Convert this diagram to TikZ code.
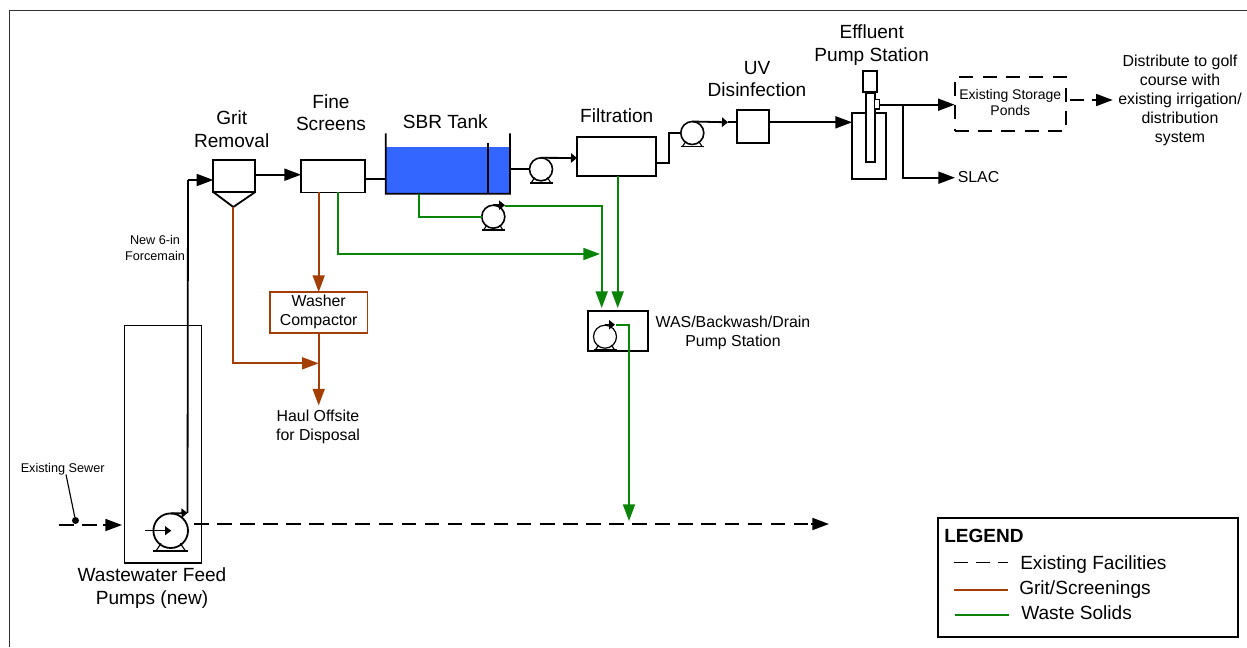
\documentclass[tikz,border=0pt]{standalone}
\usepackage{fontspec}
\setmainfont{Liberation Sans}
\usetikzlibrary{arrows.meta}
\definecolor{brownline}{HTML}{A33E06}
\definecolor{greenline}{HTML}{0A850A}
\definecolor{tankblue}{HTML}{3366FF}
\tikzset{
  x=0.75pt,y=-0.75pt,
  wh/.style 2 args={minimum width=#1*0.75pt,minimum height=#2*0.75pt},
  box/.style={draw=black,line width=1.35pt,inner sep=0pt,outer sep=0pt,rectangle},
  thinbox/.style={draw=black,line width=0.85pt,inner sep=0pt,outer sep=0pt,rectangle},
  pumpc/.style={circle,draw=black,line width=1.2pt,inner sep=0pt,outer sep=0pt,minimum size=23*0.75pt},
  pumpb/.style={circle,draw=black,line width=1.35pt,inner sep=0pt,outer sep=0pt,minimum size=34.6*0.75pt},
  pipe/.style={line width=1.35pt,black},
  brownpipe/.style={line width=1.35pt,brownline},
  greenpipe/.style={line width=1.35pt,greenline},
  bigtip/.style={-{Triangle[length=12.5pt,width=9pt]}},
  smalltip/.style={-{Triangle[length=4.5pt,width=7pt]}},
  dashline/.style={line width=1.35pt,dash pattern=on 10.9pt off 6.4pt},
  big/.style={inner sep=0pt,align=center,font=\fontsize{14.3}{17}\selectfont},
  mid/.style={inner sep=0pt,align=center,font=\fontsize{11.9}{14.2}\selectfont},
  sml/.style={inner sep=0pt,align=center,font=\fontsize{9.5}{11.5}\selectfont},
}
\newcommand{\pumpfoot}[2]{%
  \draw[line width=1.35pt] (#1.center) ++(-1.0*#2,1.17*#2) -- ++(2*#2,0);
  \draw[line width=0.85pt] (#1.center) ++(-0.85*#2,1.17*#2) -- ++(0.3*#2,-0.45*#2);
  \draw[line width=0.85pt] (#1.center) ++(0.85*#2,1.17*#2) -- ++(-0.3*#2,-0.45*#2);
}
\begin{document}
\begin{tikzpicture}
\useasboundingbox (0,0) rectangle (1247,647);
\fill[white] (0,0) rectangle (1247,647);
\draw[line width=0.8pt,black!80] (9.5,647) -- (9.5,10.5) -- (1247,10.5);

% Nodes: process boxes
\node[thinbox,wh={77}{237.5}] (feedbox) at (163,444.2) {};
\node[box,wh={42}{32}] (grit) at (234.3,176) {};
\node[box,wh={64.3}{32.5}] (fine) at (333.2,176.2) {};
\node[rectangle,fill=tankblue,inner sep=0pt,outer sep=0pt,wh={124.3}{46.4}] (tank) at (447.9,170.5) {};
\node[box,wh={79}{39}] (filter) at (616.8,156.2) {};
\node[box,wh={32.3}{32.7}] (uv) at (752.9,126.4) {};
\node[box,wh={34.3}{66.6}] (well) at (869.2,146) {};
\node[box,fill=white,wh={8.7}{69}] (column) at (870.3,127.2) {};
\node[box,fill=white,wh={14.3}{21.3}] (motor) at (869.9,81.7) {};
\node[box,fill=white,line width=0.9pt,wh={4.6}{9.7}] (nozzle) at (877,104.2) {};
\node[box,dash pattern=on 10.5pt off 7pt,wh={111}{53.4}] (ponds) at (1010.2,104) {};
\node[draw=brownline,line width=1.35pt,inner sep=0pt,outer sep=0pt,rectangle,wh={97.5}{40.7}] (washer) at (318.7,312.3) {};
\node[box,wh={60}{39.7}] (station) at (618.3,330.9) {};
\node[box,wh={299.4}{118.4}] (legend) at (1088,577.5) {};

% Pumps
\node[pumpb] (pumpA) at (170.7,530.7) {};
\node[pumpc] (pumpB) at (541,169.3) {};
\node[pumpc] (pumpC) at (692.3,133) {};
\node[pumpc] (pumpD) at (493.3,216.7) {};
\node[pumpc,line width=0.9pt] (pumpE) at (605,336.7) {};
\pumpfoot{pumpA}{17.5}
\pumpfoot{pumpB}{11.5}
\pumpfoot{pumpC}{11.5}
\pumpfoot{pumpD}{11.5}
\pumpfoot{pumpE}{11.5}

% Ports
\coordinate (conetip) at (233.3,207);
\coordinate (aout) at (187.5,513);
\coordinate (ain) at (145,530.5);
\coordinate (gritin) at (188,180);
\coordinate (gritout) at (255,174.7);
\coordinate (finetank) at (365,179.3);
\coordinate (tankout) at (510,169.3);
\coordinate (tankdrain) at (419,194);
\coordinate (filtin) at (577,158);
\coordinate (filtout) at (656,162.7);
\coordinate (uvin) at (736,122.3);
\coordinate (sewerstart) at (58.7,525);
\coordinate (dashstart) at (194,524);
\coordinate (dashend) at (829,524);
\coordinate (effl) at (879.5,104.7);
\coordinate (branch) at (903,104.7);
\coordinate (slacpt) at (955,177.7);
\coordinate (fwas) at (617.7,308);
\coordinate (gwas2) at (601.7,308);
\coordinate (junction) at (600,254);
\coordinate (browntop) at (318.7,192);
\coordinate (brownmid) at (318.7,363.3);
\coordinate (brownend) at (318.7,405.5);
\coordinate (greentop) at (338,192);
\coordinate (wasout) at (629,325);
\coordinate (wasend) at (629,521);

% Tank walls
\draw[line width=1.35pt] (385.7,133.3) -- (tank.south west) -- (tank.south east) -- (510,133.3);
\node[inner sep=0pt] (baffletop) at (487.7,142.3) {};
\draw[line width=1.35pt] (baffletop) -- (baffletop |- tank.south);

% Grit cone
\draw[line width=1.35pt] (grit.south west) -- (conetip) -- (grit.south east);

% Black pipes
\draw[pipe,smalltip] (pumpA.north) -- (aout);
\draw[pipe] (aout) -- (gritin);
\draw[pipe,bigtip] (gritin) -- (grit.west |- gritin);
\draw[pipe,bigtip] (gritout) -- (fine.west |- gritout);
\draw[pipe] (finetank) -- (tank.west |- finetank);
\draw[pipe] (tankout) -- (pumpB.west);
\draw[pipe,smalltip] (pumpB.north) -- (filtin);
\draw[pipe] (filtout) -- (669,162.7) -- (669,133) -- (pumpC.west);
\draw[pipe,smalltip] (pumpC.north) -- (728,122.3);
\draw[pipe] (728,122.3) -- (uvin);
\draw[pipe,bigtip] (uv.east |- uvin) -- (well.west |- uvin);
\draw[pipe,bigtip] (effl) -- (ponds.west |- effl);
\draw[pipe] (branch) |- (935,177.7);
\draw[pipe,bigtip] (930,177.7) -- (slacpt);
\draw[line width=1.35pt] (ain) -- (ain -| pumpA.center);
\fill (pumpA.center) ++(0.5,0) -- ++(-6,-4.5) -- ++(0,9) -- cycle;

% Dashed pipes
\draw[pipe,dash pattern=on 11.2pt off 6pt] (sewerstart) -- (96.5,525);
\draw[pipe,bigtip] (103,525) -- (122,525);
\draw[dashline] (dashstart) -- (808,524);
\draw[pipe,bigtip] (811,524) -- (dashend);
\draw[pipe] (1070,100) -- (1084,100);
\draw[pipe,bigtip] (1092,100) -- (1112.7,100);

% Brown
\draw[brownpipe] (conetip) |- (300,363.3);
\draw[brownpipe,bigtip] (295,363.3) -- (brownmid);
\draw[brownpipe,bigtip] (browntop) -- (browntop |- washer.north);
\draw[brownpipe,bigtip] (brownend |- washer.south) -- (brownend);

% Green
\draw[greenpipe] (tankdrain) |- (pumpD.west);
\draw[pipe,smalltip] (pumpD.north) -- (pumpD.north -| 505,0);
\draw[greenpipe] (505,205.7) -| (gwas2 |- 0,250);
\draw[greenpipe,bigtip] (gwas2 |- 0,250) -- (gwas2);
\draw[greenpipe,bigtip] (filter.south -| fwas) -- (fwas);
\draw[greenpipe] (greentop) |- (580,254);
\draw[greenpipe,bigtip] (580,254) -- (junction);
\draw[pipe,smalltip,line width=0.9pt] (pumpE.north) ++(0,-0.5) -- ++(10,0);
\draw[greenpipe] (616,325) -| (wasout |- 0,500);
\draw[greenpipe,bigtip] (wasout |- 0,500) -- (wasend);

% Existing Sewer leader
\node[sml,anchor=west] (sewerlbl) at (20.5,469) {Existing Sewer};
\node[circle,fill=black,inner sep=0pt,minimum size=7*0.75pt] (sewerdot) at (75.5,520.5) {};
\draw[line width=0.85pt] (66,474.5) -- (sewerdot);

% Labels
\node[big] (l1) at (231.7,129.5) {Grit\\Removal};
\node[big] (l2) at (331,112.7) {Fine\\Screens};
\node[big] (l3) at (445.3,122) {SBR Tank};
\node[big] (l4) at (616.7,115.7) {Filtration};
\node[big] (l5) at (757,79) {UV\\Disinfection};
\node[big] (l6) at (871.7,45) {Effluent\\Pump Station};
\node[big] (l7) at (152,588) {Wastewater Feed\\Pumps (new)};
\node[mid] (l8) at (1180,100.5) {Distribute to golf\\course with\\existing irrigation/\\distribution\\system};
\node[mid] (l9) at (318,427) {Haul Offsite\\for Disposal};
\node[mid] (l10) at (733,333) {WAS/Backwash/Drain\\Pump Station};
\node[mid,anchor=west] (l11) at (957.5,177.5) {SLAC};
\node[inner sep=0pt,align=center,font=\fontsize{10.5}{12}\selectfont] (l12) at (1010.3,102.5) {Existing Storage\\Ponds};
\node[mid] (l14) at (washer.center) {Washer\\Compactor};
\node[sml] (l13) at (155,248) {New 6-in\\Forcemain};

% Legend
\node[big,anchor=west,font=\fontsize{14.3}{17}\selectfont\bfseries] (lg) at (944,535.5) {LEGEND};
\coordinate (la1) at (954,562.5); \coordinate (lb1) at (1008,562.5);
\coordinate (la2) at (954,590); \coordinate (lb2) at (1008,590);
\coordinate (la3) at (955,615); \coordinate (lb3) at (1009,615);
\draw[line width=1.1pt,dash pattern=on 10.5pt off 6pt] (la1) -- (lb1);
\draw[line width=1.1pt,brownline] (la2) -- (lb2);
\draw[line width=1.1pt,greenline] (la3) -- (lb3);
\node[big,anchor=west] (lt1) at (1020,564.5) {Existing Facilities};
\node[big,anchor=west] (lt2) at (1019,590) {Grit/Screenings};
\node[big,anchor=west] (lt3) at (1021,613) {Waste Solids};
\end{tikzpicture}
\end{document}
